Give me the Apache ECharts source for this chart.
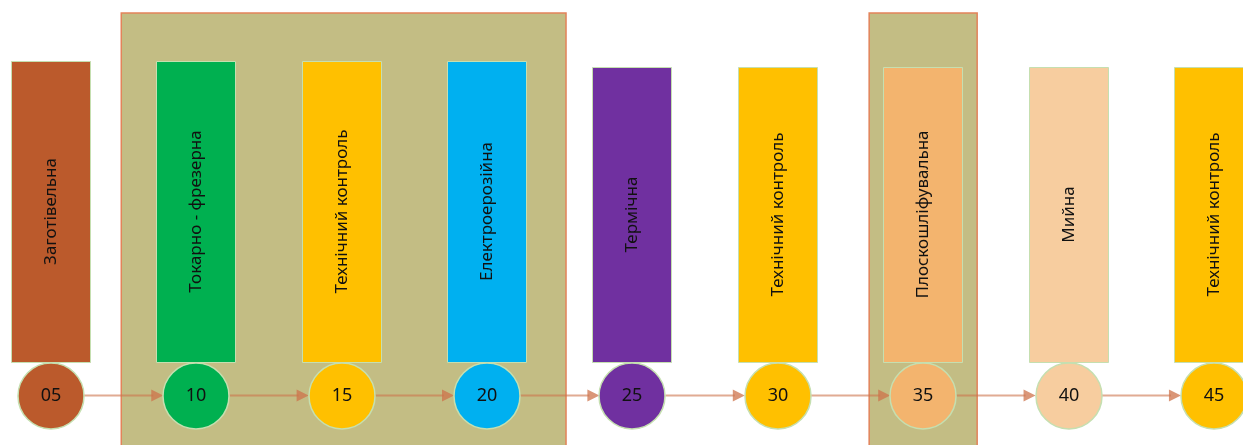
<!DOCTYPE html>
<html lang="uk">
<head>
    <meta charset="UTF-8" />
    <title>Маршрут обробки</title>
    <script src="https://cdn.jsdelivr.net/npm/echarts@6/dist/echarts.min.js"></script>
    <style>
        html, body { margin: 0; padding: 0; background: #fff; }
    </style>
</head>
<body>
    <div id="chart" style="width: 1243px; height: 445px"></div>
    <script>
        // операції маршруту
        var steps = ["05", "10", "15", "20", "25", "30", "35", "40", "45"];
        var names = ["Заготівельна", "Токарно - фрезерна", "Технічний контроль", "Електроерозійна",
            "Термічна", "Технічний контроль", "Плоскошліфувальна", "Мийна", "Технічний контроль"];
        // висота карток (у одиницях осі y)
        var cardTop = [384, 384, 384, 384, 378, 378, 378, 378, 378];
        // групи операцій на одному верстаті (від, до)
        var groups = [[1, 3], [6, 6]];

        // стилі
        var colors = ["#BB5A2C", "#00B050", "#FFC000", "#00B0F0", "#7030A0", "#FFC000", "#F3B46E", "#F7CD9F", "#FFC000"];
        var groupPad = [[75, 79], [54, 54]];
        var CARD_W = 79, CARD_BASE = 83, LINE_Y = 50, R = 33, BOX_TOP = 432;
        var FONT = "'Noto Sans', 'Open Sans', sans-serif";

        var chart = echarts.init(document.getElementById("chart"));

        var stepData = steps.map(function (s, i) { return [i, cardTop[i]]; });
        var arrowData = steps.slice(0, -1).map(function (s, i) { return [i]; });

        var option = {
            animation: false,
            grid: { left: 0, right: 0, top: 0, bottom: 0 },
            xAxis: { type: "value", min: -0.35, max: 8.2, show: false },
            yAxis: { type: "value", min: 0, max: 445, show: false },
            series: [
                {
                    // рамки груп
                    type: "custom",
                    z: 1,
                    data: groups,
                    renderItem: function (params, api) {
                        var a = api.coord([api.value(0), BOX_TOP]);
                        var b = api.coord([api.value(1), 0]);
                        var pad = groupPad[params.dataIndex];
                        return {
                            type: "rect",
                            shape: { x: a[0] - pad[0], y: a[1], width: b[0] - a[0] + pad[0] + pad[1], height: b[1] - a[1] + 5 },
                            style: { fill: "#C3BD84", stroke: "#E3835A", lineWidth: 1.5 }
                        };
                    }
                },
                {
                    // стрілки між операціями
                    type: "custom",
                    z: 2,
                    data: arrowData,
                    renderItem: function (params, api) {
                        var i = api.value(0);
                        var p1 = api.coord([i, LINE_Y]);
                        var p2 = api.coord([i + 1, LINE_Y]);
                        var x1 = p1[0] + R, x2 = p2[0] - R, y = Math.round(p1[1]) + 0.5;
                        return {
                            type: "group",
                            children: [
                                {
                                    type: "line",
                                    shape: { x1: x1, y1: y, x2: x2 - 10, y2: y },
                                    style: { stroke: "rgba(205,115,75,0.6)", lineWidth: 2 }
                                },
                                {
                                    type: "polygon",
                                    shape: { points: [[x2 - 12, y - 6], [x2, y], [x2 - 12, y + 6]] },
                                    style: { fill: "rgba(205,115,75,0.75)" }
                                }
                            ]
                        };
                    }
                },
                {
                    // картки та кружки операцій
                    type: "custom",
                    z: 3,
                    data: stepData,
                    renderItem: function (params, api) {
                        var i = params.dataIndex;
                        var top = api.coord([api.value(0), api.value(1)]);
                        var base = api.coord([api.value(0), CARD_BASE]);
                        var c = api.coord([api.value(0), LINE_Y]);
                        var cx = Math.round(c[0]);
                        return {
                            type: "group",
                            children: [
                                {
                                    type: "rect",
                                    shape: { x: cx - CARD_W / 2, y: Math.round(top[1]) + 0.5, width: CARD_W, height: base[1] - top[1] },
                                    style: { fill: colors[i], stroke: "#C5DFB0", lineWidth: 1 }
                                },
                                {
                                    type: "text",
                                    x: cx,
                                    y: (top[1] + base[1]) / 2,
                                    rotation: Math.PI / 2,
                                    style: {
                                        text: names[i], x: 0, y: 0, align: "center", verticalAlign: "middle",
                                        fill: "#111", fontSize: 17, fontFamily: FONT
                                    }
                                },
                                {
                                    type: "circle",
                                    shape: { cx: cx, cy: c[1] + 1, r: R },
                                    style: { fill: colors[i], stroke: "#C5DFB0", lineWidth: 1.5 }
                                },
                                {
                                    type: "text",
                                    style: {
                                        text: steps[i], x: cx, y: c[1] + 1, align: "center", verticalAlign: "middle",
                                        fill: "#111", fontSize: 18, fontFamily: FONT
                                    }
                                }
                            ]
                        };
                    }
                }
            ]
        };
        chart.setOption(option);
    </script>
</body>
</html>
